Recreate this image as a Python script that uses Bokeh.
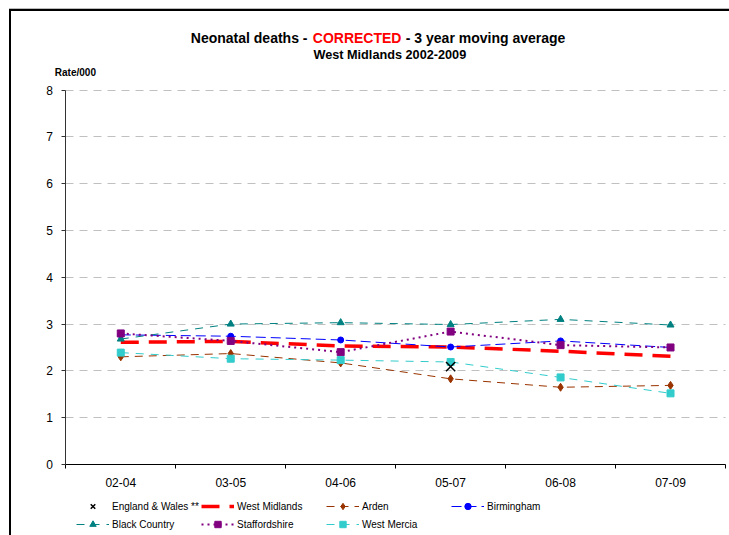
import numpy as np
from bokeh.plotting import figure
from bokeh.models import Range1d, FixedTicker, Legend, LegendItem, Label
from bokeh.embed import file_html
from bokeh.resources import INLINE

# ---- data ----
periods = ["02-04", "03-05", "04-06", "05-07", "06-08", "07-09"]
england_wales = [np.nan, np.nan, np.nan, 2.09, np.nan, np.nan]
west_midlands = [2.61, 2.63, 2.53, 2.51, 2.42, 2.31]
arden = [2.30, 2.37, 2.17, 1.83, 1.65, 1.69]
birmingham = [2.77, 2.74, 2.66, 2.51, 2.64, 2.50]
black_country = [2.68, 3.00, 3.03, 2.99, 3.10, 2.98]
staffordshire = [2.80, 2.64, 2.40, 2.84, 2.55, 2.50]
west_mercia = [2.39, 2.26, 2.23, 2.19, 1.86, 1.52]
y_ticks = [0, 1, 2, 3, 4, 5, 6, 7, 8]

FONT = "Liberation Sans"
W, H = 729, 535
n = len(periods)
xs = np.arange(n) + 0.5

# plot area in page pixels: x 0..6 -> 65.3..725, y 0..8 -> 464..89.5
px_x = (725 - 65.3) / n
px_y = (464 - 89.5) / 8
x_lo = -65.3 / px_x
x_hi = n + (W - 725) / px_x
y_lo = -(H - 464) / px_y
y_hi = 8 + 89.5 / px_y

p = figure(width=W, height=H, output_backend="svg", toolbar_location=None,
           x_range=Range1d(x_lo, x_hi), y_range=Range1d(y_lo, y_hi),
           min_border=0, min_border_left=0, min_border_right=0,
           min_border_top=0, min_border_bottom=0)
p.border_fill_color = None
p.background_fill_color = None
p.outline_line_color = None
p.styles = {
    "background-image": "linear-gradient(#000,#000), linear-gradient(#000,#000), linear-gradient(#bbb,#bbb)",
    "background-size": "2px 530px, 722px 2px, 722px 1px",
    "background-position": "9px 9px, 9px 9px, 9px 8px",
    "background-repeat": "no-repeat",
}

# axes (drawn at the data origin)
p.xaxis.fixed_location = 0
p.xaxis.bounds = (0, n)
p.xaxis.ticker = FixedTicker(ticks=list(xs), minor_ticks=list(range(n + 1)))
p.xaxis.major_label_overrides = {float(x): lab for x, lab in zip(xs, periods)}
p.xaxis.major_tick_line_color = None
p.xaxis.major_tick_out = 0
p.xaxis.major_tick_in = 0
p.xaxis.minor_tick_out = 4
p.xaxis.minor_tick_in = 0
p.xaxis.minor_tick_line_color = "black"
p.xaxis.axis_line_color = "black"
p.xaxis.major_label_standoff = 9
p.xaxis.major_label_text_font = FONT
p.xaxis.major_label_text_font_size = "12px"
p.xaxis.major_label_text_color = "black"

p.yaxis.fixed_location = 0
p.yaxis.bounds = (0, 8)
p.yaxis.ticker = FixedTicker(ticks=y_ticks)
p.yaxis.minor_tick_line_color = None
p.yaxis.major_tick_out = 4
p.yaxis.major_tick_in = 0
p.yaxis.axis_line_color = "#333333"
p.yaxis.major_tick_line_color = "#333333"
p.yaxis.major_label_standoff = 9
p.yaxis.major_label_text_font = FONT
p.yaxis.major_label_text_font_size = "12px"
p.yaxis.major_label_text_color = "black"

p.xgrid.grid_line_color = None
p.ygrid.grid_line_color = "#C0C0C0"
p.ygrid.grid_line_dash = "8 6"
p.ygrid.grid_line_width = 1
p.ygrid.cross_bounds = (0, n)
p.ygrid.bounds = (1, 8)

# series
items = []
r_wm = p.line(xs, west_midlands, line_color="#FF0000", line_width=3.5, line_dash="18 10")

specs = [
    ("Arden", arden, "#993300", "diamond", 8, "8 6", 1),
    ("Birmingham", birmingham, "#0000FF", "circle", 6, "10 5", 1),
    ("Black Country", black_country, "#008080", "triangle", 7, "8 7", 1),
    ("Staffordshire", staffordshire, "#800080", "square", 7, "2 4", 2),
    ("West Mercia", west_mercia, "#33CCCC", "square", 7, "8 7", 1),
]
region_items = []
for name, vals, col, mk, sz, dash, lw in specs:
    l = p.line(xs, vals, line_color=col, line_width=lw, line_dash=dash)
    s = p.scatter(xs, vals, marker=mk, size=sz, fill_color=col, line_color=col)
    region_items.append(LegendItem(label=name, renderers=[l, s]))

r_ew = p.scatter(xs, england_wales, marker="x", size=13, line_color="black", line_width=1.5)

items = [LegendItem(label="England & Wales **", renderers=[r_ew]),
         LegendItem(label="West Midlands", renderers=[r_wm])] + region_items

legend = Legend(items=items, orientation="horizontal", ncols=4,
                location=(76, 3), border_line_color=None, background_fill_alpha=0,
                label_text_font=FONT, label_text_font_size="10px", label_text_color="black",
                glyph_width=33, glyph_height=16, label_height=16, label_width=87,
                label_standoff=3, spacing=2, padding=0, margin=0)
p.add_layout(legend)

# title & axis caption
def lab(text, y, xoff, color="black", size="14px", align="left"):
    p.add_layout(Label(x=0, y=y, x_offset=xoff, text=text, text_color=color,
                       text_font=FONT, text_font_size=size, text_font_style="bold",
                       text_align=align, text_baseline="middle"))

lab("Neonatal deaths - ", 9.12, 125)
lab("CORRECTED", 9.12, 247, color="#FF0000")
lab("- 3 year moving average", 9.12, 340)
lab("West Midlands 2002-2009", 8.74, 324, size="12.7px", align="center")
lab("Rate/000", 8.37, -11, size="10px")

open("out.html", "w").write(file_html(p, INLINE))
